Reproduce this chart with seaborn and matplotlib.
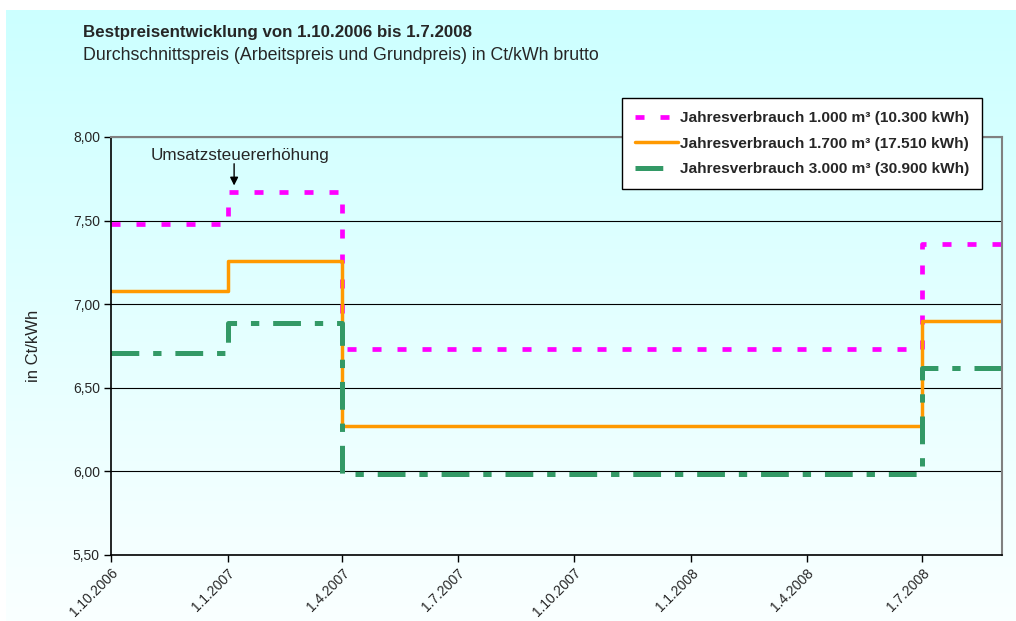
import numpy as np
import pandas as pd
import seaborn as sns
import matplotlib.pyplot as plt

# Data
dates = ['2006-10-01', '2007-01-01', '2007-04-01', '2008-07-01', '2008-09-02']
price_1000 = [7.48, 7.67, 6.73, 7.36, 7.36]
price_1700 = [7.08, 7.26, 6.27, 6.90, 6.90]
price_3000 = [6.71, 6.89, 5.985, 6.62, 6.62]
series_names = ['Jahresverbrauch 1.000 m³ (10.300 kWh)',
                'Jahresverbrauch 1.700 m³ (17.510 kWh)',
                'Jahresverbrauch 3.000 m³ (30.900 kWh)']
tick_dates = ['2006-10-01', '2007-01-01', '2007-04-01', '2007-07-01',
              '2007-10-01', '2008-01-01', '2008-04-01', '2008-07-01']
y_ticks = [5.5, 6.0, 6.5, 7.0, 7.5, 8.0]
vat_date = '2007-01-06'

dtf = pd.DataFrame({'Datum': pd.to_datetime(dates),
                    series_names[0]: price_1000,
                    series_names[1]: price_1700,
                    series_names[2]: price_3000})

sns.set_theme(style='white')
plt.rcParams['font.family'] = ['Liberation Sans', 'DejaVu Sans']
plt.rcParams['lines.scale_dashes'] = False

fig = plt.figure(figsize=(10.16, 6.21), dpi=100)
fig.patch.set_facecolor('white')

# gradient background (cyan -> almost white)
bg = fig.add_axes([6 / 1016, 0, 1 - 6 / 1016, 1 - 10 / 621], zorder=-1)
grad = np.linspace(0, 1, 256).reshape(-1, 1)
top = np.array([204, 255, 255]) / 255
bottom = np.array([250, 255, 255]) / 255
img = top + (bottom - top) * grad[:, :, None]
bg.imshow(img, aspect='auto', extent=(0, 1, 0, 1))
bg.set_axis_off()

ax = fig.add_axes([111 / 1016, 1 - 555 / 621, 891 / 1016, 418 / 621])
ax.set_facecolor('none')

colors = ['#ff00ff', '#ff9900', '#339966']
styles = [(0, (6.5, 11.5)), '-', (0, (20, 10, 6, 10))]
widths = [3.4, 2.5, 3.6]
for name, c, ls, lw in zip(series_names, colors, styles, widths):
    sns.lineplot(data=dtf, x='Datum', y=name, ax=ax, color=c, linestyle=ls,
                 linewidth=lw, drawstyle='steps-post', label=name)

ax.set_xlim(pd.Timestamp(dates[0]), pd.Timestamp(dates[-1]))
ax.set_ylim(5.5, 8.0)
ax.set_yticks(y_ticks)
ax.set_yticklabels([f'{v:.2f}'.replace('.', ',') for v in y_ticks], fontsize=10)
tks = pd.to_datetime(tick_dates)
ax.set_xticks(tks)
ax.set_xticklabels([f'{d.day}.{d.month}.{d.year}' for d in tks], fontsize=10,
                   rotation=45, ha='right', va='top', rotation_mode='anchor')
ax.tick_params(axis='both', which='major', direction='out', length=5,
               width=1, color='black', left=True, bottom=True, pad=3)
ax.yaxis.grid(True, color='black', linewidth=0.8)
ax.set_axisbelow(True)
ax.set_xlabel(None)
ax.set_ylabel('in Ct/kWh', fontsize=12)
ax.yaxis.set_label_coords(-0.079, 0.5)

for s in ['left', 'bottom']:
    ax.spines[s].set_color('black')
    ax.spines[s].set_linewidth(1.2)
for s in ['top', 'right']:
    ax.spines[s].set_color('#808080')
    ax.spines[s].set_linewidth(1.5)

# annotation
ax.annotate('', xy=(pd.Timestamp(vat_date), 7.71),
            xytext=(pd.Timestamp(vat_date), 7.84),
            arrowprops=dict(arrowstyle='-|>', color='black', lw=1,
                            mutation_scale=12, shrinkA=0, shrinkB=0))
ax.text(pd.Timestamp('2007-01-11'), 7.89, 'Umsatzsteuererhöhung',
        ha='center', va='center', fontsize=12.3)

leg = ax.legend(loc='upper right', bbox_to_anchor=(982 / 1016, 1 - 98 / 621),
                bbox_transform=fig.transFigure, frameon=True, fancybox=False,
                edgecolor='black', facecolor='white', framealpha=1,
                handlelength=2.8, handletextpad=0.1,
                prop={'weight': 'bold', 'size': 11.1},
                borderpad=0.85, labelspacing=0.75, borderaxespad=0)
leg.get_frame().set_linewidth(1)
leg.get_lines()[2].set_dashes((20, 30))

fig.text(83 / 1016, 1 - 33 / 621, 'Bestpreisentwicklung von 1.10.2006 bis 1.7.2008',
         fontsize=12.2, fontweight='bold', va='center')
fig.text(83 / 1016, 1 - 55 / 621,
         'Durchschnittspreis (Arbeitspreis und Grundpreis) in Ct/kWh brutto',
         fontsize=12.8, va='center')

fig.savefig('out.png', dpi=100)
